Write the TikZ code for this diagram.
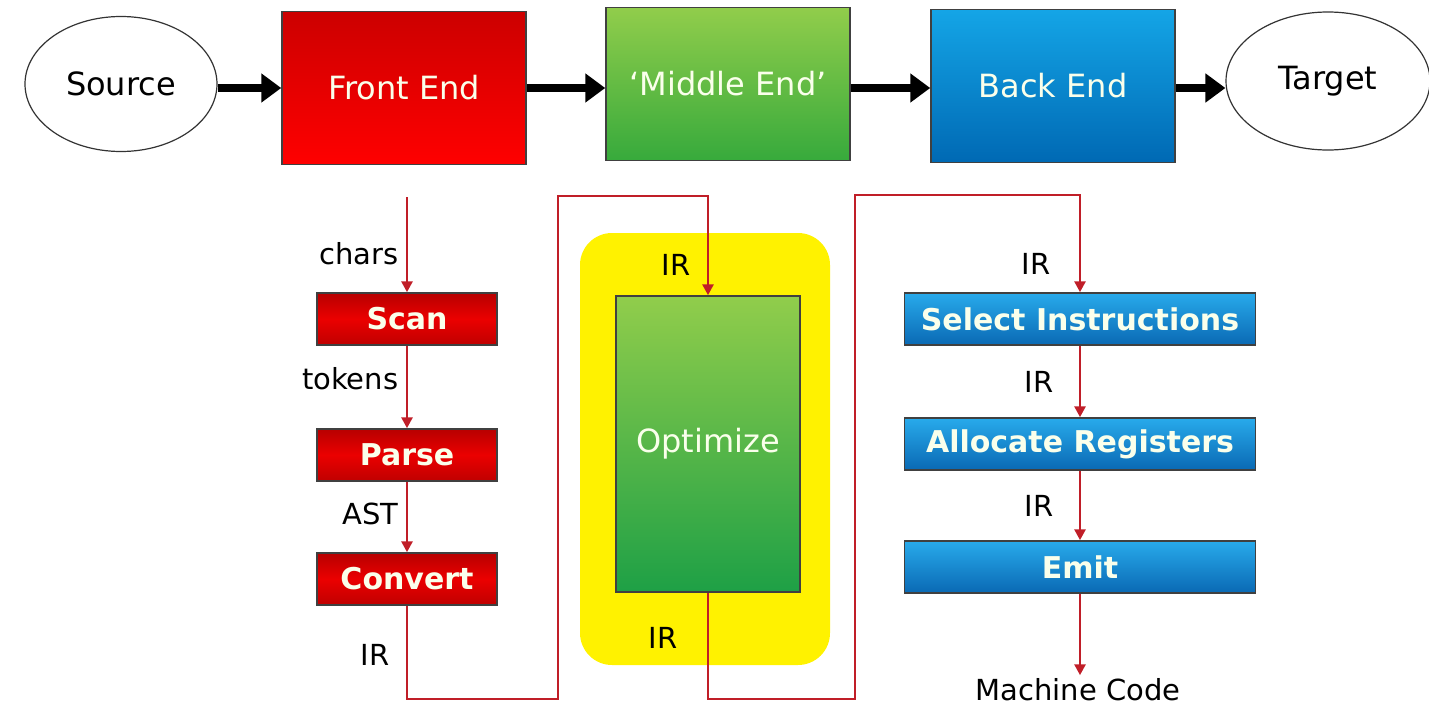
\documentclass[tikz,border=0pt]{standalone}
\usepackage{fontspec}
\setmainfont{DejaVu Sans}
\usetikzlibrary{shapes.geometric,arrows.meta}

\definecolor{flowred}{RGB}{192,30,40}
\definecolor{boxtext}{RGB}{250,255,235}

\tikzset{
	ext/.style={ellipse, draw=black!80, line width=1.2pt, fill=white, minimum width=192pt, minimum height=135pt,
		font=\fontsize{32}{38}\selectfont},
	phase/.style={rectangle, draw=black!75, line width=1.5pt, minimum width=244pt, minimum height=153pt,
		text=boxtext, font=\fontsize{32}{38}\selectfont},
	pass/.style={rectangle, draw=black!75, line width=1.5pt, minimum height=52pt,
		text=boxtext, font=\fontsize{30}{36}\selectfont\bfseries},
	redpass/.style={pass, minimum width=180pt, top color=red!72!black, bottom color=red!75!black, middle color=red!92!black},
	bluepass/.style={pass, minimum width=351pt, top color={rgb,255:red,40;green,170;blue,235}, bottom color={rgb,255:red,10;green,105;blue,180}},
	lbl/.style={text=black, font=\fontsize{29}{34}\selectfont},
	bigarrow/.style={line width=8pt, -{Triangle[length=20pt,width=28pt]}},
	flow/.style={flowred, line width=2.8pt, -{Triangle[length=11pt,width=11pt]}}
}

\begin{document}
\begin{tikzpicture}[x=1pt, y=-1pt]
	\useasboundingbox (0,0) rectangle (1429,707);

	% top row
	\node[ext] (src) at (121,84) {Source};
	\node[phase, top color=red!80!black, bottom color=red] (fe) at (404,88) {Front End};
	\node[phase, top color={rgb,255:red,145;green,205;blue,75}, bottom color={rgb,255:red,55;green,170;blue,60}] (me) at (728,84) {`Middle End'};
	\node[phase, top color={rgb,255:red,20;green,165;blue,230}, bottom color={rgb,255:red,0;green,105;blue,180}] (be) at (1053,86) {Back End};
	\node[ext, minimum width=204pt, minimum height=138pt] (tgt) at (1328,81) {Target};

	\draw[bigarrow] (src.east |- 0,88) -- (fe.west |- 0,88);
	\draw[bigarrow] (fe.east |- 0,88) -- (me.west |- 0,88);
	\draw[bigarrow] (me.east |- 0,88) -- (be.west |- 0,88);
	\draw[bigarrow] (be.east |- 0,88) -- (tgt.west |- 0,88);

	% front end passes
	\coordinate (in) at (407,197);
	\node[redpass] (scan) at (407,319) {Scan};
	\node[redpass] (parse) at (407,455) {Parse};
	\node[redpass] (conv) at (407,579) {Convert};

	\draw[flow] (in) -- (scan.north) node[lbl, pos=0.6, left=4pt] (l1) {chars};
	\draw[flow] (scan.south) -- (parse.north) node[lbl, pos=0.4, left=4pt] (l2) {tokens};
	\draw[flow] (parse.south) -- (conv.north) node[lbl, pos=0.45, left=4pt] (l3) {AST};

	% middle end
	\node[fill=yellow, rounded corners=32pt, minimum width=250pt, minimum height=432pt] (mid) at (705,449) {};
	\node[phase, minimum width=184pt, minimum height=296pt, top color={rgb,255:red,145;green,205;blue,75}, bottom color={rgb,255:red,30;green,160;blue,70}] (opt) at (708,444) {Optimize};

	\coordinate (b1) at (558,699);
	\coordinate (t1) at (558,196);
	\draw[flow] (conv.south) |- (b1) -- (t1) -| (opt.north);
	\node[lbl] (l4) at (375,655) {IR};
	\node[lbl] (l5) at (676,265) {IR};

	% back end passes
	\node[bluepass] (sel) at (1080,319) {Select Instructions};
	\node[bluepass] (alloc) at (1080,444) {Allocate Registers};
	\node[bluepass] (emit) at (1080,567) {Emit};
	\node[lbl] (mc) at (1078,690) {Machine Code};

	\coordinate (b2) at (855,699);
	\coordinate (t2) at (855,195);
	\draw[flow] (opt.south) |- (b2) -- (t2) -| (sel.north);
	\node[lbl] (l6) at (663,638) {IR};
	\node[lbl] (l7) at (1036,264) {IR};

	\draw[flow] (sel.south) -- (alloc.north) node[lbl, pos=0.5, left=22pt] (l8) {IR};
	\draw[flow] (alloc.south) -- (emit.north) node[lbl, pos=0.5, left=22pt] (l9) {IR};
	\draw[flow] (emit.south) -- (emit.south |- mc.north);
\end{tikzpicture}
\end{document}
